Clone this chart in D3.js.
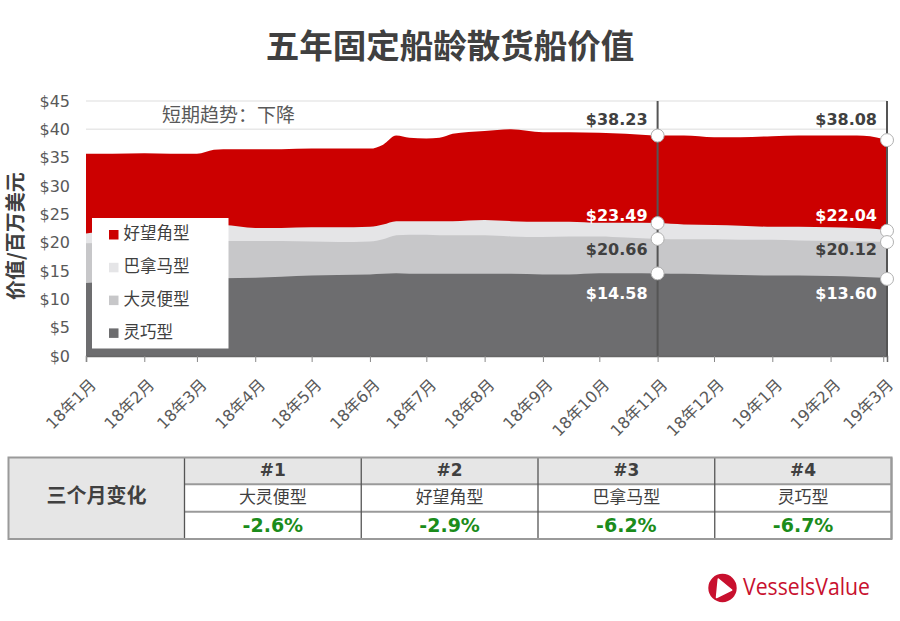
<!DOCTYPE html>
<html><head><meta charset="utf-8">
<script src="https://cdn.jsdelivr.net/npm/d3@7"></script>
<style>body{margin:0;background:#fff} svg{display:block}</style>
</head><body><svg id="c" width="900" height="621"></svg>
<script>
const dates = ["2018-01-01","2018-01-15","2018-02-01","2018-02-15","2018-03-01","2018-03-10","2018-03-15","2018-04-01","2018-04-15","2018-05-01","2018-05-15","2018-06-01","2018-06-08","2018-06-15","2018-06-22","2018-07-01","2018-07-08","2018-07-15","2018-08-01","2018-08-15","2018-09-01","2018-09-15","2018-10-01","2018-10-15","2018-11-01","2018-11-15","2018-12-01","2018-12-15","2019-01-01","2019-01-15","2019-02-01","2019-02-15","2019-03-01","2019-03-03"];
const capesize = [35.7,35.7,35.8,35.7,35.7,36.4,36.5,36.5,36.5,36.6,36.6,36.6,37.3,38.9,38.5,38.4,38.5,39.2,39.7,40.0,39.5,39.5,39.4,39.2,38.9,38.9,38.6,38.6,38.8,38.9,38.9,38.9,38.3,38.1];
const panamax = [21.6,22.2,22.6,22.8,23.0,23.1,23.1,22.6,22.6,22.7,22.7,22.8,23.2,23.8,23.8,23.8,23.8,23.8,24.0,23.8,23.7,23.7,23.5,23.5,23.45,23.2,23.1,23.0,22.8,22.8,22.7,22.6,22.3,22.1];
const supramax = [19.9,20.0,20.1,20.2,20.3,20.3,20.3,20.3,20.3,20.2,20.1,20.2,20.6,21.3,21.4,21.4,21.3,21.3,21.3,21.1,21.0,21.1,21.1,20.9,20.66,20.6,20.6,20.5,20.5,20.4,20.3,20.2,20.15,20.1];
const handysize = [12.9,13.1,13.3,13.4,13.5,13.6,13.7,13.8,14.0,14.2,14.3,14.4,14.5,14.6,14.5,14.5,14.5,14.5,14.5,14.5,14.4,14.4,14.6,14.6,14.58,14.5,14.4,14.3,14.2,14.2,14.1,14.0,13.8,13.6];
const seriesNames = ["好望角型","巴拿马型","大灵便型","灵巧型"];
const yTicks = [0,5,10,15,20,25,30,35,40,45];
const xTickDates = ["2018-01-01","2018-02-01","2018-03-01","2018-04-01","2018-05-01","2018-06-01","2018-07-01","2018-08-01","2018-09-01","2018-10-01","2018-11-01","2018-12-01","2019-01-01","2019-02-01","2019-03-01"];
const xTickLabels = ["18年1月","18年2月","18年3月","18年4月","18年5月","18年6月","18年7月","18年8月","18年9月","18年10月","18年11月","18年12月","19年1月","19年2月","19年3月"];
const markDates = ["2018-11-01","2019-03-03"];
const labelsNov = ["$38.23","$23.49","$20.66","$14.58"];
const labelsEnd = ["$38.08","$22.04","$20.12","$13.60"];
const tableRanks = ["#1","#2","#3","#4"];
const tableTypes = ["大灵便型","好望角型","巴拿马型","灵巧型"];
const tableChanges = ["-2.6%","-2.9%","-6.2%","-6.7%"];

const parse = d3.timeParse("%Y-%m-%d");
const svg = d3.select("#c");
const cjk = "'DejaVu Sans','Noto Sans CJK SC',sans-serif";
const cjkOnly = "'Noto Sans CJK SC',sans-serif";

const x = d3.scaleTime().domain([parse("2018-01-01"), parse("2019-03-03")]).range([86, 887]);
const y = d3.scaleLinear().domain([0, 45]).range([356, 101]);

const colors = ["#cc0000", "#e5e5e7", "#c7c7c9", "#6d6d6f"];
const seriesVals = [capesize, panamax, supramax, handysize];
const series = seriesVals.map((vals, k) => ({name: seriesNames[k], color: colors[k], values: vals.map((v, i) => ({d: parse(dates[i]), v}))}));

// title
svg.append("text").attr("x", 450).attr("y", 49).attr("text-anchor", "middle").attr("dominant-baseline", "middle")
  .attr("font-family", cjkOnly).attr("font-weight", "bold").attr("font-size", 33.5).attr("fill", "#404040")
  .text("五年固定船龄散货船价值");

// gridlines
svg.append("g").selectAll("line").data(yTicks).join("line")
  .attr("x1", 86).attr("x2", 887).attr("y1", d => y(d)).attr("y2", d => y(d))
  .attr("stroke", "#e8e8e8").attr("stroke-width", 1.5);

// areas
const area = d3.area().x(d => x(d.d)).y0(y(0)).y1(d => y(d.v)).curve(d3.curveMonotoneX);
svg.append("g").selectAll("path").data(series).join("path")
  .attr("d", d => area(d.values)).attr("fill", d => d.color);

// vertical marker lines
svg.append("g").selectAll("line").data(markDates).join("line")
  .attr("x1", d => x(parse(d))).attr("x2", d => x(parse(d))).attr("y1", y(45)).attr("y2", y(0))
  .attr("stroke", "#555").attr("stroke-width", 2);

// x axis
const xAxis = d3.axisBottom(x).tickValues(xTickDates.map(parse)).tickSize(6).tickFormat((d, i) => xTickLabels[i]);
const gx = svg.append("g").attr("transform", `translate(0,${y(0)})`).call(xAxis);
gx.select(".domain").attr("stroke", "#666").attr("stroke-width", 1.5);
gx.selectAll(".tick line").attr("stroke", "#888");
gx.selectAll(".tick text").attr("y", 0).attr("dy", 0).attr("text-anchor", "end")
  .attr("transform", "translate(10.5,30) rotate(-45)")
  .attr("font-family", cjk).attr("font-size", 16).attr("fill", "#595959");

// y axis
const yAxis = d3.axisLeft(y).tickValues(yTicks).tickSize(0).tickPadding(16).tickFormat(d => "$" + d);
const gy = svg.append("g").attr("transform", "translate(86,0)").call(yAxis);
gy.select(".domain").remove();
gy.selectAll(".tick text").attr("font-family", cjk).attr("font-size", 16).attr("fill", "#595959");

// y title
svg.append("text").attr("transform", "translate(18,236) rotate(-90)").attr("text-anchor", "middle")
  .attr("dominant-baseline", "middle").attr("font-family", cjkOnly).attr("font-weight", "bold")
  .attr("font-size", 20).attr("fill", "#404040").text("价值/百万美元");

// short-term trend
svg.append("text").attr("x", 162).attr("y", 117).attr("dominant-baseline", "middle")
  .attr("font-family", cjkOnly).attr("font-size", 19).attr("fill", "#595959").text("短期趋势：下降");

// value labels
const labelY = [120, 216, 250, 294];
const labelColor = ["#404040", "#ffffff", "#404040", "#ffffff"];
[labelsNov, labelsEnd].forEach((labs, j) => {
  const xx = x(parse(markDates[j])) - 10;
  svg.append("g").selectAll("text").data(labs).join("text")
    .attr("x", xx).attr("y", (d, i) => labelY[i]).attr("text-anchor", "end").attr("dominant-baseline", "middle")
    .attr("font-family", "'DejaVu Sans',sans-serif").attr("font-weight", "bold").attr("font-size", 16)
    .attr("fill", (d, i) => labelColor[i]).text(d => d);
});

// markers
markDates.forEach(md => {
  const idx = dates.indexOf(md);
  svg.append("g").selectAll("circle").data(series).join("circle")
    .attr("cx", x(parse(md))).attr("cy", d => y(d.values[idx].v)).attr("r", 6.5)
    .attr("fill", "#fff").attr("stroke", "#b0b0b0").attr("stroke-width", 1);
});

// legend
const lg = svg.append("g");
lg.append("rect").attr("x", 92).attr("y", 218).attr("width", 136.5).attr("height", 130.5).attr("fill", "#fff");
const li = lg.selectAll("g.item").data(series).join("g").attr("class", "item")
  .attr("transform", (d, i) => `translate(109,${234.5 + i * 32.8})`);
li.append("rect").attr("x", 0).attr("y", -4.5).attr("width", 9.5).attr("height", 9.5).attr("fill", d => d.color);
li.append("text").attr("x", 14.5).attr("y", 0.5).attr("dominant-baseline", "middle")
  .attr("font-family", cjkOnly).attr("font-size", 16.5).attr("fill", "#404040").text(d => d.name);

// table
const tb = svg.append("g");
const tL = 8.5, tR = 891.5, tT = 457.5, tB = 539, c0 = 184.5;
const colW = (tR - c0) / 4;
const r1 = 484.3, r2 = 511.7;
tb.append("rect").attr("x", tL).attr("y", tT).attr("width", c0 - tL).attr("height", tB - tT).attr("fill", "#e6e6e6");
tb.append("rect").attr("x", c0).attr("y", tT).attr("width", tR - c0).attr("height", r1 - tT).attr("fill", "#e6e6e6");
[r1, r2].forEach(ry => tb.append("line").attr("x1", c0).attr("x2", tR).attr("y1", ry).attr("y2", ry).attr("stroke", "#9a9a9a").attr("stroke-width", 2));
d3.range(5).forEach(k => tb.append("line").attr("x1", c0 + k * colW).attr("x2", c0 + k * colW).attr("y1", tT).attr("y2", tB)
  .attr("stroke", k === 4 ? "#9a9a9a" : "#555").attr("stroke-width", k === 4 ? 2 : 1.3));
tb.append("rect").attr("x", tL).attr("y", tT).attr("width", tR - tL).attr("height", tB - tT)
  .attr("fill", "none").attr("stroke", "#9a9a9a").attr("stroke-width", 2);
tb.append("text").attr("x", (tL + c0) / 2).attr("y", 498).attr("text-anchor", "middle").attr("dominant-baseline", "middle")
  .attr("font-family", cjkOnly).attr("font-weight", "bold").attr("font-size", 20).attr("fill", "#404040").text("三个月变化");
tb.selectAll("text.rank").data(tableRanks).join("text").attr("class", "rank")
  .attr("x", (d, i) => c0 + colW * (i + 0.5)).attr("y", 471).attr("text-anchor", "middle").attr("dominant-baseline", "middle")
  .attr("font-family", "'DejaVu Sans',sans-serif").attr("font-weight", "bold").attr("font-size", 17).attr("fill", "#404040").text(d => d);
tb.selectAll("text.type").data(tableTypes).join("text").attr("class", "type")
  .attr("x", (d, i) => c0 + colW * (i + 0.5)).attr("y", 498).attr("text-anchor", "middle").attr("dominant-baseline", "middle")
  .attr("font-family", cjkOnly).attr("font-size", 17).attr("fill", "#404040").text(d => d);
tb.selectAll("text.chg").data(tableChanges).join("text").attr("class", "chg")
  .attr("x", (d, i) => c0 + colW * (i + 0.5)).attr("y", 526).attr("text-anchor", "middle").attr("dominant-baseline", "middle")
  .attr("font-family", "'DejaVu Sans',sans-serif").attr("font-weight", "bold").attr("font-size", 19).attr("fill", "#1b8c1b").text(d => d);

// logo
const lo = svg.append("g");
lo.append("circle").attr("cx", 722.5).attr("cy", 588).attr("r", 14.2).attr("fill", "#c8102e");
lo.append("path").attr("d", "M716.5,597.5 L718.3,579 L731.7,590 Z").attr("fill", "#fff").attr("stroke", "#fff").attr("stroke-width", 1.5).attr("stroke-linejoin", "round");
lo.append("text").attr("x", 743).attr("y", 589).attr("dominant-baseline", "middle")
  .attr("font-family", "'Open Sans',sans-serif").attr("font-size", 23).attr("fill", "#c8102e")
  .attr("textLength", 127).attr("lengthAdjust", "spacingAndGlyphs").text("VesselsValue");
</script></body></html>
